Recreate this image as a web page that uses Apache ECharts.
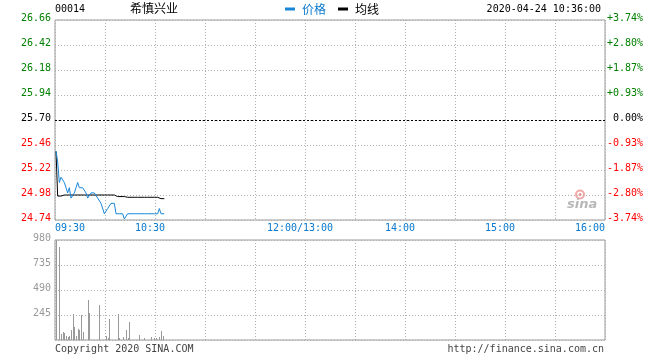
<!DOCTYPE html>
<html>
<head>
<meta charset="utf-8">
<script src="https://cdn.jsdelivr.net/npm/echarts@6/dist/echarts.min.js"></script>
<style>html,body{margin:0;padding:0;background:#fff}#c{width:660px;height:360px}</style>
</head>
<body>
<div id="c"></div>
<script>
// ---- data ----
const stockCode = '00014';
const stockName = '希慎兴业';
const timeStamp = '2020-04-24 10:36:00';
const prevClose = 25.70;
const price = [25.40,25.30,25.10,25.15,25.15,25.10,25.05,25.00,25.05,24.95,
  24.95,25.00,25.05,25.10,25.05,25.05,25.05,25.05,25.00,24.95,
  24.95,25.00,25.00,25.00,25.00,24.95,24.95,24.90,24.90,24.80,
  24.80,24.85,24.85,24.90,24.90,24.90,24.80,24.80,24.80,24.80,
  24.80,24.75,24.75,24.80,24.80,24.80,24.80,24.80,24.80,24.80,
  24.80,24.80,24.80,24.80,24.80,24.80,24.80,24.80,24.80,24.80,
  24.80,24.80,24.85,24.80,24.80,24.80];
const avgPrice = [25.40,24.97,24.965,24.97,24.975,24.98,24.98,24.98,24.98,24.98,
  24.98,24.98,24.98,24.98,24.98,24.98,24.98,24.98,24.98,24.98,
  24.98,24.98,24.98,24.98,24.98,24.98,24.98,24.98,24.98,24.98,
  24.98,24.98,24.98,24.98,24.98,24.98,24.97,24.965,24.965,24.965,
  24.965,24.965,24.965,24.958,24.958,24.958,24.958,24.958,24.958,24.958,
  24.958,24.958,24.958,24.958,24.958,24.958,24.958,24.958,24.958,24.958,
  24.958,24.958,24.945,24.945,24.945,24.945];
const volume = [980,0,911,62,78,65,36,33,36,98,
  255,130,40,108,98,245,78,0,0,392,
  268,0,0,0,0,0,343,0,0,0,
  36,20,209,0,0,0,0,253,20,0,
  25,0,98,20,178,0,0,0,0,0,
  45,0,0,20,0,0,0,25,0,20,
  20,0,25,85,40,0];
const priceTicks = ['24.74','24.98','25.22','25.46','25.70','25.94','26.18','26.42','26.66'];
const pctTicks = ['-3.74%','-2.80%','-1.87%','-0.93%','0.00%','+0.93%','+1.87%','+2.80%','+3.74%'];
const volTicks = [0,245,490,735,980];
const timeTickMinutes = [0,60,150,210,270,330];
const timeTickLabels = ['09:30','10:30','12:00/13:00','14:00','15:00','16:00'];
const legendNames = ['价格','均线'];

// ---- style ----
const MONO = 'DejaVu Sans Mono';
const CJK = 'Noto Sans CJK SC';
const BLUE = '#1a86d6';
const TXTBLUE = '#0a78cc';
const GREEN = '#008000';
const RED = '#ff0000';
const GRID = '#b0b0b0';
const BORDER = '#999999';

const tickColor = i => i < 4 ? RED : (i === 4 ? '#000' : GREEN);
const priceData = price.map((v, i) => [i, v]);
const avgData = avgPrice.map((v, i) => [i, v]);
const volData = volume.map((v, i) => [i, v]);

const chart = echarts.init(document.getElementById('c'), null, {renderer: 'canvas'});
const splitDotted = {show: true, lineStyle: {color: GRID, type: [1, 2], width: 1}};
const LABEL_PAD = [0, 0, 4, 0];

const option = {
  animation: false,
  backgroundColor: '#fff',
  textStyle: {fontFamily: MONO},
  legend: {
    left: 285, top: 3, padding: 0, itemWidth: 10, itemHeight: 3, itemGap: 12, icon: 'rect',
    selectedMode: false,
    textStyle: {fontFamily: CJK, fontSize: 12, padding: [0, 0, 0, 2]},
    data: [
      {name: legendNames[0], itemStyle: {color: BLUE}, textStyle: {color: TXTBLUE}},
      {name: legendNames[1], itemStyle: {color: '#000'}, textStyle: {color: '#000'}}
    ]
  },
  grid: [
    {left: 55, top: 20, width: 550, height: 200, show: true, borderColor: BORDER, borderWidth: 1, containLabel: false},
    {left: 55, top: 240, width: 550, height: 100, show: true, borderColor: BORDER, borderWidth: 1, containLabel: false}
  ],
  xAxis: [
    {gridIndex: 0, type: 'value', min: 0, max: 330, interval: 30,
      axisLine: {show: false}, axisTick: {show: false}, splitLine: splitDotted,
      axisLabel: {
        show: true, margin: 3, fontFamily: MONO, fontSize: 10, color: TXTBLUE,
        alignMinLabel: 'left', alignMaxLabel: 'right',
        formatter: v => {
          const k = timeTickMinutes.indexOf(v);
          if (k < 0) return '';
          if (k === 0 || k === timeTickMinutes.length - 1) return '{e|' + timeTickLabels[k] + '}';
          return '{m|' + timeTickLabels[k] + '}';
        },
        rich: {
          e: {fontFamily: MONO, fontSize: 10, color: TXTBLUE},
          m: {fontFamily: MONO, fontSize: 10, color: TXTBLUE, padding: [0, 10, 0, 0]}
        }
      }},
    {gridIndex: 0, type: 'value', min: -0.6, max: 329.4, show: false, splitLine: {show: false}},
    {gridIndex: 1, type: 'value', min: 0, max: 330, interval: 30,
      axisLine: {show: false}, axisTick: {show: false}, axisLabel: {show: false}, splitLine: splitDotted},
    {gridIndex: 1, type: 'value', min: -0.6, max: 329.4, show: false, splitLine: {show: false}}
  ],
  yAxis: [
    {gridIndex: 0, type: 'value', position: 'left', min: 0, max: 8, interval: 1,
      axisLine: {show: false}, axisTick: {show: false}, splitLine: splitDotted,
      axisLabel: {
        margin: 4, fontFamily: MONO, fontSize: 10, verticalAlign: 'middle', padding: LABEL_PAD,
        formatter: v => '{c' + v + '|' + priceTicks[v] + '}',
        rich: Object.fromEntries(priceTicks.map((t, i) => ['c' + i, {fontFamily: MONO, fontSize: 10, color: tickColor(i)}]))
      }},
    {gridIndex: 0, type: 'value', position: 'right', min: 0, max: 8, interval: 1,
      axisLine: {show: false}, axisTick: {show: false}, splitLine: {show: false},
      axisLabel: {
        margin: 38, align: 'right', fontFamily: MONO, fontSize: 10, verticalAlign: 'middle', padding: LABEL_PAD,
        formatter: v => '{c' + v + '|' + pctTicks[v] + '}',
        rich: Object.fromEntries(pctTicks.map((t, i) => ['c' + i, {fontFamily: MONO, fontSize: 10, color: tickColor(i)}]))
      }},
    {gridIndex: 0, type: 'value', min: 24.74, max: 26.66, show: false, splitLine: {show: false}},
    {gridIndex: 1, type: 'value', min: volTicks[0], max: volTicks[volTicks.length - 1], interval: volTicks[1] - volTicks[0],
      axisLine: {show: false}, axisTick: {show: false}, splitLine: splitDotted,
      axisLabel: {
        margin: 4, fontFamily: MONO, fontSize: 10, verticalAlign: 'middle', padding: LABEL_PAD,
        showMinLabel: false,
        formatter: v => v === 0 ? '' : '{g|' + v + '}',
        rich: {g: {fontFamily: MONO, fontSize: 10, color: '#999'}}
      }}
  ],
  series: [
    {name: legendNames[1], type: 'line', xAxisIndex: 1, yAxisIndex: 2, data: avgData,
      symbol: 'none', lineStyle: {color: '#000', width: 1}, itemStyle: {color: '#000'}, z: 3},
    {name: legendNames[0], type: 'line', xAxisIndex: 1, yAxisIndex: 2, data: priceData,
      symbol: 'none', lineStyle: {color: BLUE, width: 1}, itemStyle: {color: BLUE}, z: 4,
      markLine: {silent: true, symbol: 'none', label: {show: false},
        lineStyle: {color: '#000', type: [2, 2], width: 1},
        data: [{yAxis: prevClose}]}},
    {name: 'vol', type: 'custom', coordinateSystem: 'cartesian2d', xAxisIndex: 3, yAxisIndex: 3, data: volData,
      z: 3,
      renderItem: (params, api) => {
        const v = api.value(1);
        if (!v) return null;
        const top = api.coord([api.value(0), v]);
        const base = api.coord([api.value(0), 0]);
        const x = Math.round(top[0]);
        const y = Math.round(top[1]);
        return {type: 'rect', shape: {x: x, y: y, width: 1, height: Math.round(base[1]) - y},
          style: {fill: '#999'}};
      }}
  ],
  graphic: [
    {type: 'text', left: 55, top: 4, style: {text: stockCode, font: '10px "' + MONO + '"', fill: '#000'}},
    {type: 'text', left: 130, top: 2, style: {text: stockName, font: '12px "' + CJK + '"', fill: '#000'}},
    {type: 'text', right: 59, top: 4, style: {text: timeStamp, font: '10px "' + MONO + '"', fill: '#000'}},
    {type: 'text', left: 55, top: 344, style: {text: 'Copyright 2020 SINA.COM', font: '10px "' + MONO + '"', fill: '#444'}},
    {type: 'text', right: 56, top: 344, style: {text: 'http://finance.sina.com.cn', font: '10px "' + MONO + '"', fill: '#444'}},
    {type: 'group', left: 567, top: 188, z: 1, children: [
      {type: 'circle', shape: {cx: 13, cy: 7, r: 4}, style: {fill: 'none', stroke: '#f3a8a8', lineWidth: 2}},
      {type: 'circle', shape: {cx: 13, cy: 7, r: 1.5}, style: {fill: '#ee9090'}},
      {type: 'text', x: 0, y: 11, style: {text: 'sina', font: 'italic bold 13px "DejaVu Sans"', fill: '#b8b8b8'}}
    ]}
  ]
};
chart.setOption(option);
</script>
</body>
</html>
